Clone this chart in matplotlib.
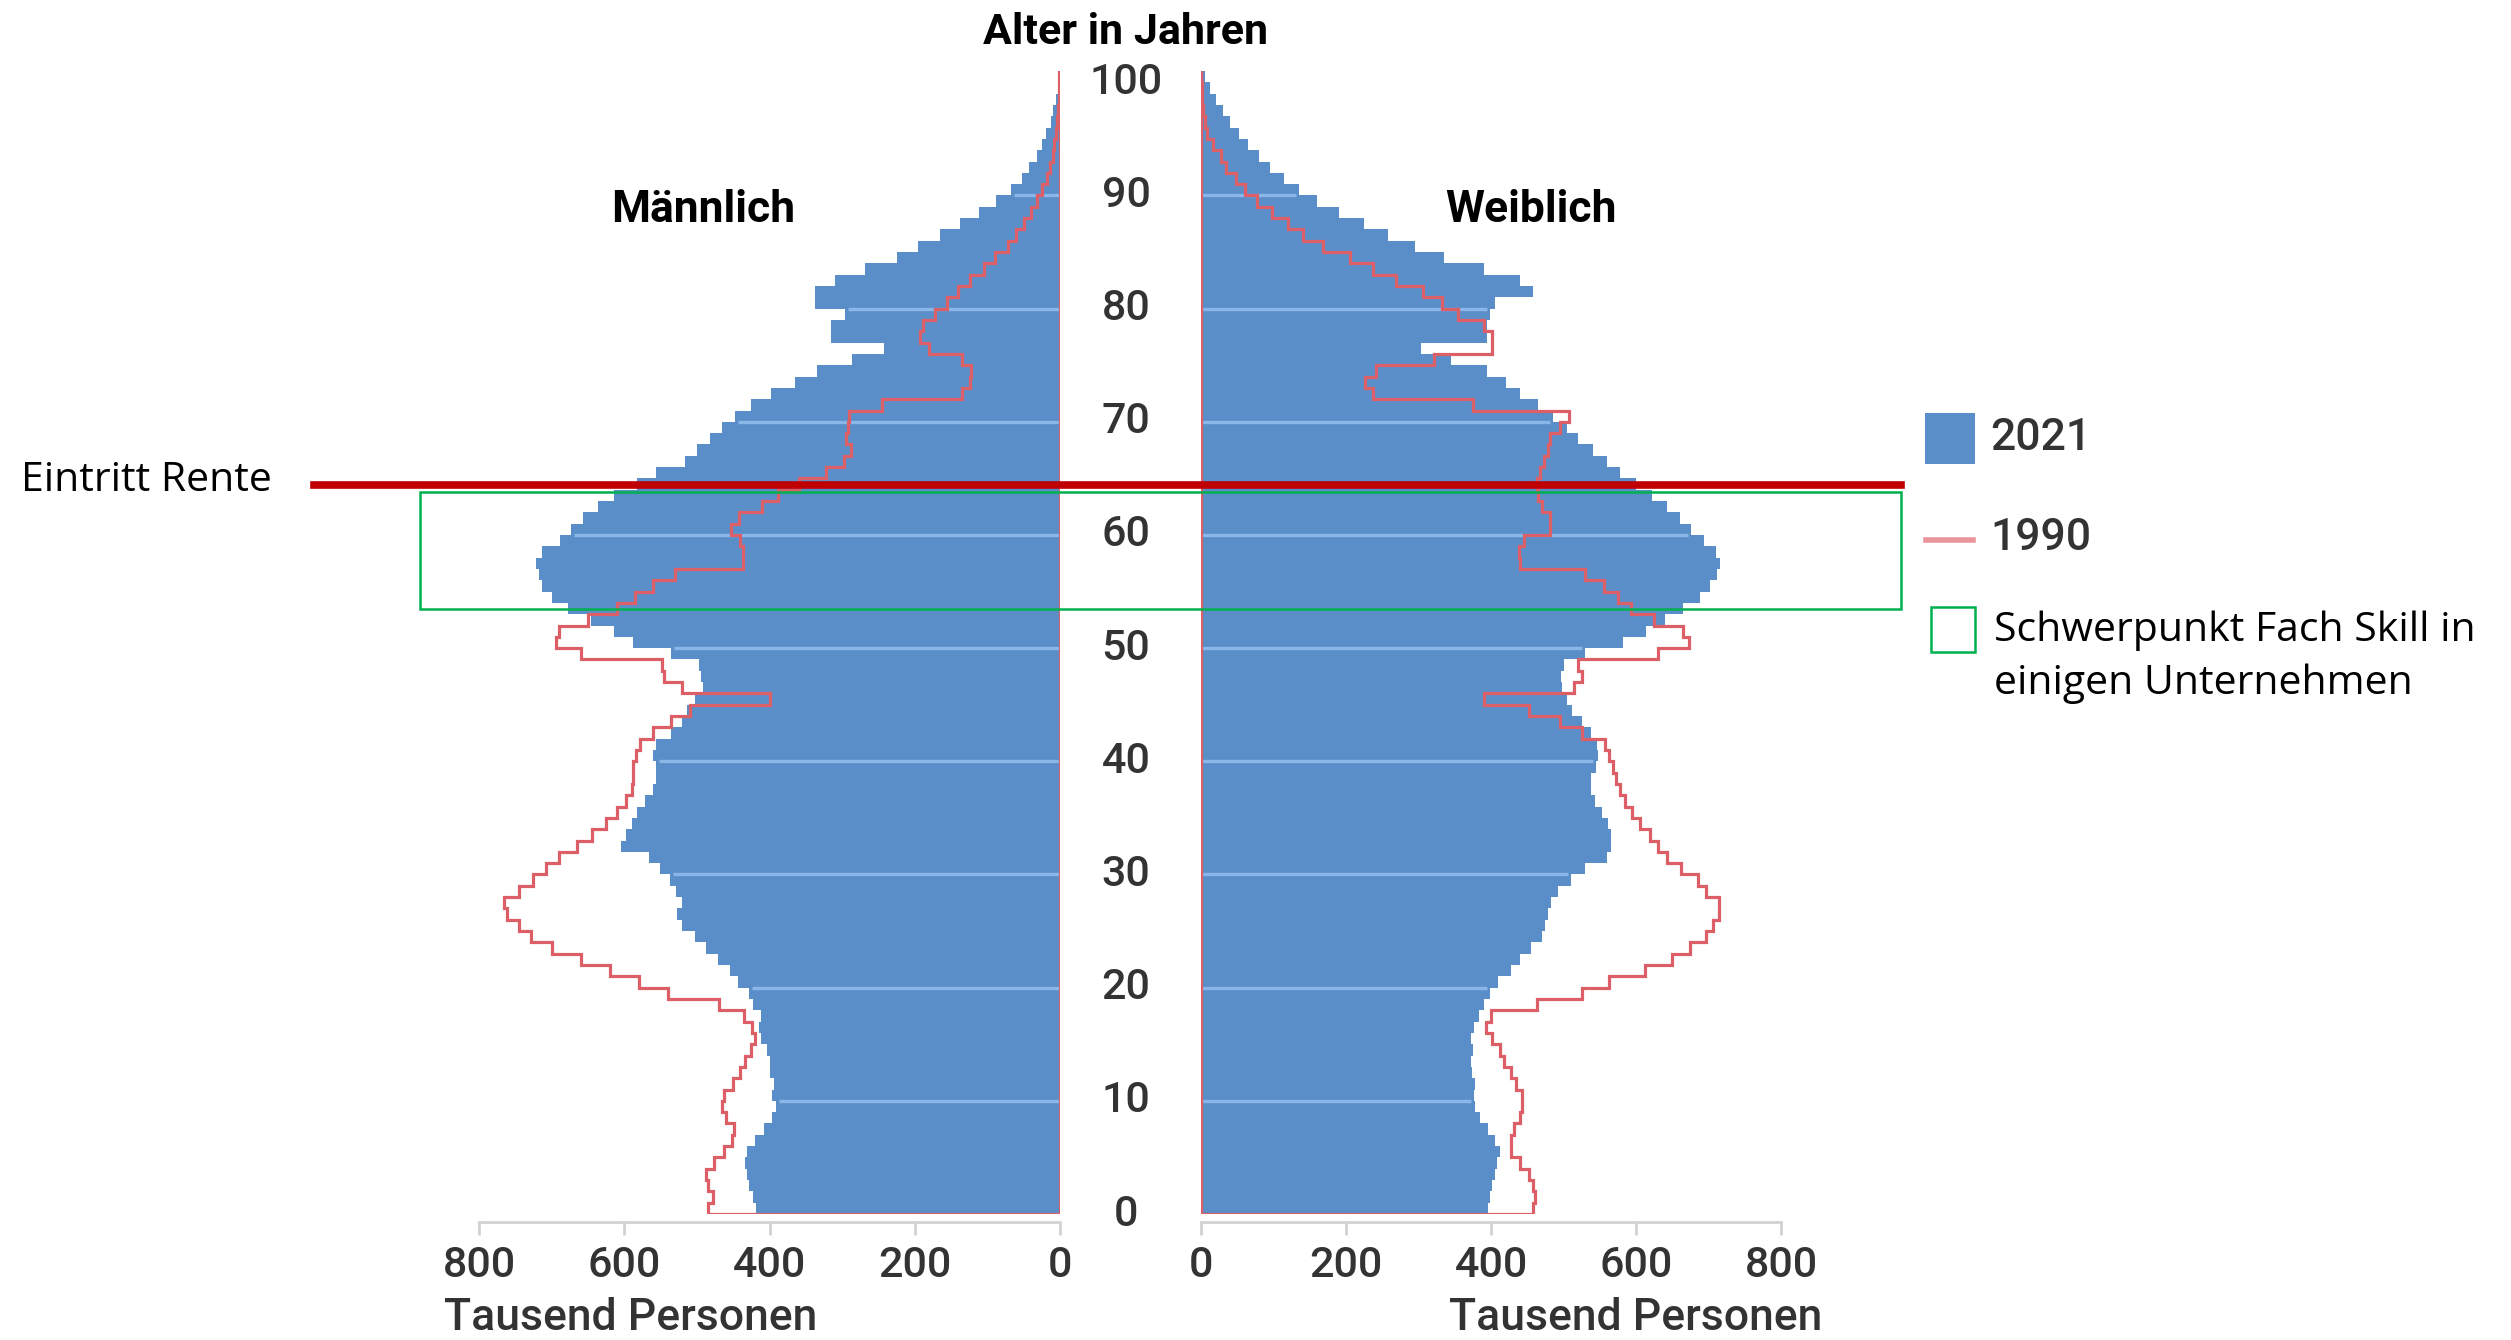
"""Bevölkerungspyramide Deutschland 2021 vs. 1990.

Balken: Bevölkerung 2021, rote Treppenlinie: 1990 (Tausend Personen je Altersjahr).
Dazu Markierung "Eintritt Rente" und der Schwerpunkt-Bereich.

Usage:
    python plot.py
"""

import numpy as np
import matplotlib
matplotlib.use("Agg")
import matplotlib.pyplot as plt
from matplotlib.patches import Rectangle
from matplotlib.lines import Line2D
from matplotlib import transforms

# Daten (Tausend Personen, Alter 0..100)
MALE_2021 = [
    418, 423, 428, 431, 434, 431, 420, 407, 396, 391,
    396, 394, 399, 399, 404, 412, 415, 412, 423, 428,
    444, 455, 471, 487, 503, 521, 527, 521, 529, 537,
    551, 566, 604, 598, 590, 582, 572, 561, 556, 556,
    561, 556, 535, 521, 513, 503, 492, 495, 497, 535,
    588, 614, 646, 678, 699, 713, 718, 721, 713, 689,
    673, 657, 636, 614, 582, 556, 517, 500, 482, 465,
    447, 425, 398, 365, 335, 287, 243, 316, 316, 296,
    337, 337, 310, 268, 225, 195, 165, 138, 112, 88,
    68, 52, 42, 32, 25, 19, 13, 9, 6, 3, 2,
]
MALE_1990 = [
    484, 478, 484, 487, 476, 463, 452, 449, 460, 465,
    462, 450, 441, 434, 426, 420, 424, 435, 470, 540,
    580, 620, 660, 700, 728, 745, 762, 765, 745, 725,
    708, 690, 665, 645, 625, 610, 598, 590, 588, 588,
    584, 578, 560, 535, 510, 400, 520, 545, 548, 660,
    694, 690, 650, 610, 585, 560, 530, 437, 437, 440,
    453, 442, 411, 388, 360, 322, 298, 288, 295, 292,
    290, 245, 135, 124, 122, 135, 180, 193, 188, 172,
    155, 140, 124, 105, 90, 72, 60, 49, 40, 31,
    25, 18, 14, 10, 8, 6, 4, 3, 2, 1, 1,
]
FEMALE_2021 = [
    396, 398, 402, 405, 408, 412, 405, 396, 385, 378,
    376, 378, 374, 373, 375, 372, 376, 384, 390, 398,
    410, 427, 440, 455, 470, 475, 478, 483, 492, 510,
    530, 560, 566, 566, 562, 553, 543, 538, 538, 545,
    548, 546, 538, 525, 512, 505, 498, 497, 500, 530,
    582, 614, 640, 665, 688, 702, 712, 716, 710, 694,
    676, 660, 643, 622, 600, 578, 560, 540, 520, 505,
    485, 465, 440, 420, 395, 345, 303, 395, 395, 398,
    405, 458, 440, 390, 335, 295, 258, 225, 190, 160,
    135, 115, 95, 80, 65, 52, 40, 30, 20, 12, 6,
]
FEMALE_1990 = [
    458, 461, 458, 452, 440, 428, 427, 432, 440, 443,
    443, 435, 427, 418, 413, 402, 393, 400, 464, 526,
    563, 612, 649, 674, 696, 706, 714, 714, 696, 686,
    662, 643, 630, 619, 605, 594, 585, 578, 572, 568,
    563, 557, 526, 495, 452, 390, 514, 526, 520, 630,
    673, 665, 625, 593, 575, 556, 530, 440, 438, 445,
    482, 482, 470, 465, 463, 468, 473, 478, 482, 495,
    508, 375, 237, 226, 242, 322, 402, 402, 391, 354,
    332, 306, 269, 237, 205, 168, 141, 120, 98, 77,
    61, 48, 35, 27, 16, 8, 5, 3, 2, 1, 0,
]

AGE_TICKS = list(range(0, 101, 10))
X_TICKS = [0, 200, 400, 600, 800]

RENTE_AGE = 64.4               # rote Linie "Eintritt Rente"
SCHWERPUNKT = (53.5, 63.8)     # grüner Rahmen (Alter von/bis)

W, H = 2511, 1340
BLUE = "#5a8ec8"
GRID = "#8ab6e8"
RED90 = "#dc5f68"
TXT = "#333333"
FONT = ["Roboto", "DejaVu Sans"]
FONT_NOTE = ["Open Sans", "DejaVu Sans"]


def fx(px):
    return px / W


def fy(py):
    return 1 - py / H


def outline(vals):
    """Treppen-Umriss wie in der Vorlage (geschlossen über die Nullachse)."""
    xs, ys = [0], [0]
    for a, v in enumerate(vals):
        xs += [v, v]
        ys += [a, a + 1]
    xs += [0, 0]
    ys += [len(vals), 0]
    return xs, ys


def draw_side(ax, v21, v90):
    ages = np.arange(len(v21))
    ax.barh(ages, v21, height=1.0, align="edge", color=BLUE, linewidth=0)
    for g in AGE_TICKS[1:-1]:
        ax.hlines(g, 0, min(v21[g - 1], v21[g]) - 4, color=GRID, lw=2.4)
    xs, ys = outline(v90)
    ax.plot(xs, ys, color=RED90, lw=2.3, solid_joinstyle="miter")

    ax.set_ylim(0, 101)
    ax.set_xticks(X_TICKS)
    ax.set_yticks([])
    for s in ("left", "right", "top"):
        ax.spines[s].set_visible(False)
    ax.spines["bottom"].set_position(("outward", 6))
    ax.spines["bottom"].set_color("#d2d2d2")
    ax.spines["bottom"].set_linewidth(2)
    ax.tick_params(axis="x", length=9, width=2, color="#d2d2d2",
                   labelsize=31, labelcolor=TXT, pad=7)
    for lab in ax.get_xticklabels():
        lab.set_family(FONT)
        lab.set_fontweight("medium")


def main():
    fig = plt.figure(figsize=(W / 100, H / 100), dpi=100)
    bottom, height = 1 - 1214 / H, (1214 - 71) / H
    ax_m = fig.add_axes([fx(479), bottom, 581 / W, height])
    ax_w = fig.add_axes([fx(1201), bottom, 580 / W, height])

    draw_side(ax_m, MALE_2021, MALE_1990)
    ax_m.set_xlim(800, 0)
    draw_side(ax_w, FEMALE_2021, FEMALE_1990)
    ax_w.set_xlim(0, 800)

    # Altersbeschriftung in der Mitte
    mid = transforms.blended_transform_factory(fig.transFigure, ax_m.transData)
    for a in AGE_TICKS:
        fig.text(fx(1126), a, str(a), transform=mid, ha="center", va="center",
                 fontsize=31, fontweight="medium", color=TXT, family=FONT)
    fig.text(fx(1126), fy(32), "Alter in Jahren", ha="center", va="center",
             fontsize=31, fontweight="bold", color="black", family=FONT)

    ax_m.text(491, 88.7, "Männlich", ha="center", va="center", fontsize=32,
              fontweight="bold", family=FONT)
    ax_w.text(455, 88.7, "Weiblich", ha="center", va="center", fontsize=32,
              fontweight="bold", family=FONT)

    fig.text(fx(444), fy(1318), "Tausend Personen", ha="left", va="center",
             fontsize=32, fontweight="medium", color=TXT, family=FONT)
    fig.text(fx(1822), fy(1318), "Tausend Personen", ha="right", va="center",
             fontsize=32, fontweight="medium", color=TXT, family=FONT)

    # Legende
    fig.add_artist(Rectangle((fx(1925), fy(464)), 50 / W, 51 / H,
                             transform=fig.transFigure, color=BLUE, lw=0))
    fig.text(fx(1990), fy(438), "2021", ha="left", va="center", fontsize=32,
             fontweight="medium", color=TXT, family=FONT)
    fig.add_artist(Line2D([fx(1926), fx(1973)], [fy(540), fy(540)],
                          transform=fig.transFigure, color="#e9959b", lw=4))
    fig.text(fx(1990), fy(538), "1990", ha="left", va="center", fontsize=32,
             fontweight="medium", color=TXT, family=FONT)
    fig.add_artist(Rectangle((fx(1931), fy(652)), 44 / W, 45 / H,
                             transform=fig.transFigure, fill=False,
                             edgecolor="#00b050", lw=1.8))
    fig.text(fx(1994), fy(657), "Schwerpunkt Fach Skill in\neinigen Unternehmen",
             ha="left", va="center", fontsize=29.5, linespacing=1.4,
             color="black", family=FONT_NOTE)

    # Markierung Rente + Schwerpunkt
    fig.add_artist(Line2D([fx(314), fx(1901)], [RENTE_AGE, RENTE_AGE],
                          transform=mid, color="#c00000", lw=5.5))
    lo, hi = SCHWERPUNKT
    fig.add_artist(Rectangle((fx(420), lo), (1901 - 420) / W, hi - lo,
                             transform=mid, fill=False,
                             edgecolor="#00b050", lw=1.8))
    fig.text(fx(21), fy(481), "Eintritt Rente", ha="left", va="center",
             fontsize=29.5, color="black", family=FONT_NOTE)

    fig.savefig("out.png", dpi=100, facecolor="white")
    plt.close(fig)


if __name__ == "__main__":
    main()
